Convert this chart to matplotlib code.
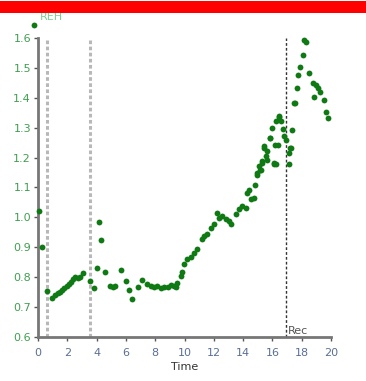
import matplotlib
matplotlib.use("Agg")
import matplotlib.pyplot as plt
from matplotlib.patches import Rectangle

# time / REH values
time = [-0.3, 0.1, 0.3, 0.6, 0.95, 1.15, 1.35, 1.5, 1.65, 1.8, 1.95, 2.1, 2.25, 2.4, 2.55,
        2.7, 2.9, 3.1, 3.55, 3.8, 4.02, 4.13, 4.32, 4.59, 4.93, 5.1, 5.27, 5.66, 6.03, 6.23,
        6.42, 6.8, 7.1, 7.44, 7.7, 7.95, 8.15, 8.4, 8.6, 8.85, 9.05, 9.25, 9.4, 9.5, 9.73,
        9.84, 9.95, 10.18, 10.41, 10.64, 10.87, 11.21, 11.32, 11.55, 11.78, 12.01, 12.24,
        12.35, 12.58, 12.81, 13.03, 13.15, 13.49, 13.72, 13.95, 14.18, 14.29, 14.38, 14.52,
        14.75, 14.84, 14.93, 14.98, 15.09, 15.14, 15.2, 15.3, 15.32, 15.41, 15.43, 15.55,
        15.66, 15.66, 15.82, 15.84, 16.0, 16.1, 16.12, 16.2, 16.23, 16.23, 16.35, 16.44,
        16.46, 16.58, 16.69, 16.8, 16.92, 17.15, 17.15, 17.19, 17.26, 17.37, 17.47, 17.56,
        17.67, 17.78, 17.9, 18.06, 18.17, 18.29, 18.52, 18.74, 18.81, 18.97, 19.09, 19.27,
        19.5, 19.66, 19.77]
reh = [1.645, 1.02, 0.90, 0.755, 0.73, 0.74, 0.748, 0.752, 0.758, 0.765, 0.77, 0.776, 0.783,
       0.795, 0.8, 0.797, 0.8, 0.813, 0.788, 0.763, 0.83, 0.984, 0.924, 0.819, 0.771, 0.766,
       0.77, 0.823, 0.788, 0.758, 0.727, 0.766, 0.79, 0.777, 0.769, 0.766, 0.771, 0.764,
       0.768, 0.766, 0.773, 0.77, 0.768, 0.782, 0.804, 0.816, 0.843, 0.86, 0.869, 0.88,
       0.893, 0.927, 0.938, 0.943, 0.966, 0.977, 1.016, 0.999, 1.004, 0.993, 0.988, 0.977,
       1.01, 1.027, 1.038, 1.032, 1.082, 1.093, 1.06, 1.066, 1.11, 1.147, 1.143, 1.171, 1.16,
       1.16, 1.182, 1.188, 1.238, 1.232, 1.204, 1.221, 1.193, 1.266, 1.266, 1.299, 1.182,
       1.177, 1.243, 1.321, 1.177, 1.243, 1.338, 1.336, 1.321, 1.296, 1.271, 1.26, 1.216,
       1.177, 1.232, 1.232, 1.293, 1.382, 1.384, 1.432, 1.477, 1.504, 1.543, 1.593, 1.588,
       1.482, 1.449, 1.404, 1.443, 1.432, 1.421, 1.393, 1.354, 1.332]

event_times = [0.6, 3.55]
rec_time = 16.9

xticks = [0, 2, 4, 6, 8, 10, 12, 14, 16, 18, 20]
yticks = [0.6, 0.7, 0.8, 0.9, 1.0, 1.1, 1.2, 1.3, 1.4, 1.5, 1.6]

W, H = 366, 381
fig = plt.figure(figsize=(W / 100, H / 100), dpi=100)
fig.patch.set_facecolor('white')

# red banner at the top
fig.patches.append(Rectangle((0, (H - 13) / H), 1, 12 / H, transform=fig.transFigure,
                             facecolor='#ff0000', edgecolor='none'))

ax = fig.add_axes([38 / W, 44 / H, 293 / W, 299 / H])
ax.set_xlim(0, 20)
ax.set_ylim(0.6, 1.6)

for t in event_times:
    ax.axvline(t, color='#b8b8b8', linestyle=(0, (1.2, 0.8)), linewidth=2.2, zorder=1)
ax.axvline(rec_time, color='#333333', linestyle=(0, (2, 1.5)), linewidth=1.0, zorder=1)

ax.plot(time, reh, 'o', color='#0f7a14', markersize=4.2, markeredgewidth=0, clip_on=False,
        zorder=3)

for side in ['top', 'right']:
    ax.spines[side].set_visible(False)
for side in ['left', 'bottom']:
    ax.spines[side].set_color('#777777')
    ax.spines[side].set_linewidth(2)

ax.set_xticks(xticks)
ax.set_yticks(yticks)
ax.set_yticklabels(['%.1f' % v for v in yticks])
ax.tick_params(axis='both', length=3, width=1, color='#555555', labelsize=8)
ax.tick_params(axis='x', labelcolor='#5a6f96', pad=5)
ax.tick_params(axis='y', labelcolor='#3f9f4f', pad=2)

ax.set_xlabel('Time', fontsize=8, color='#333333', labelpad=3)
ax.text(0.15, 1.655, 'REH', fontsize=8, color='#7fcf8f', ha='left', va='bottom', clip_on=False)
ax.text(rec_time + 0.15, 0.605, 'Rec', fontsize=8, color='#555555', ha='left', va='bottom')

fig.savefig('out.png', dpi=100)
